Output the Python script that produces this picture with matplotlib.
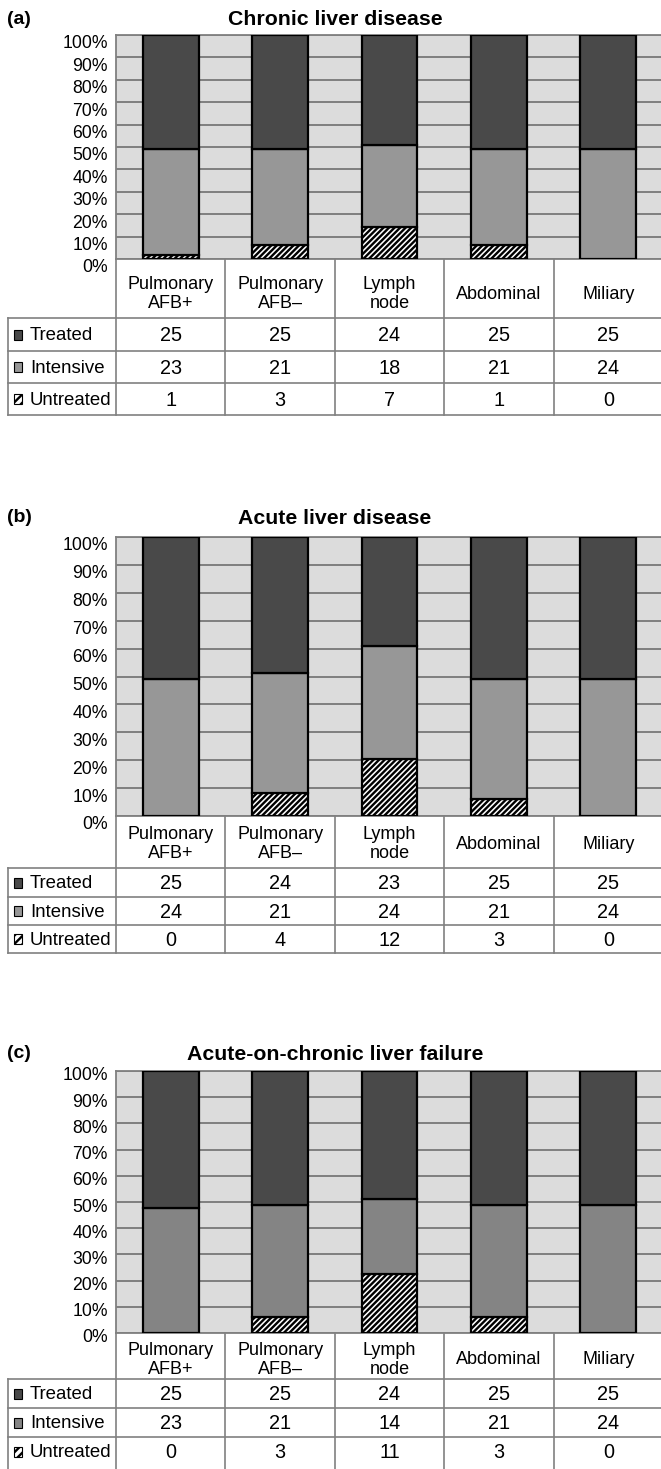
import matplotlib
matplotlib.use("Agg")
import matplotlib.pyplot as plt
from matplotlib import font_manager
from matplotlib.patches import Rectangle
from matplotlib.transforms import ScaledTranslation

# ---------------- data ----------------
categories = ["Pulmonary\nAFB+", "Pulmonary\nAFB\u2013", "Lymph\nnode", "Abdominal", "Miliary"]
series = ["Treated", "Intensive", "Untreated"]
titles = ["Chronic liver disease", "Acute liver disease", "Acute-on-chronic liver failure"]
panel_tags = ["(a)", "(b)", "(c)"]
y_ticks = [0, 10, 20, 30, 40, 50, 60, 70, 80, 90, 100]

# table counts (as printed)
a_treated = [25, 25, 24, 25, 25]
a_intensive = [23, 21, 18, 21, 24]
a_untreated = [1, 3, 7, 1, 0]
b_treated = [25, 24, 23, 25, 25]
b_intensive = [24, 21, 24, 21, 24]
b_untreated = [0, 4, 12, 3, 0]
c_treated = [25, 25, 24, 25, 25]
c_intensive = [23, 21, 14, 21, 24]
c_untreated = [0, 3, 11, 3, 0]

# bar segment heights in percent
a_untreated_pct = [2.0, 6.1, 14.3, 6.1, 0.0]
a_intensive_pct = [46.9, 42.9, 36.7, 42.9, 49.0]
a_treated_pct = [51.1, 51.0, 49.0, 51.0, 51.0]
b_untreated_pct = [0.0, 8.2, 20.3, 6.1, 0.0]
b_intensive_pct = [49.0, 42.9, 40.7, 42.9, 49.0]
b_treated_pct = [51.0, 48.9, 39.0, 51.0, 51.0]
c_untreated_pct = [0.0, 6.1, 22.4, 6.1, 0.0]
c_intensive_pct = [47.9, 42.9, 28.6, 42.9, 49.0]
c_treated_pct = [52.1, 51.0, 49.0, 51.0, 51.0]

# ---------------- style ----------------
W, H = 661, 1469
names = {f.name for f in font_manager.fontManager.ttflist}
base_font = "Liberation Sans" if "Liberation Sans" in names else "DejaVu Sans"
if "Liberation Sans Narrow" in names:
    row_font, row_size = "Liberation Sans Narrow", 16
else:
    row_font, row_size = base_font, 13.4
plt.rcParams["font.family"] = [base_font, "DejaVu Sans"]
plt.rcParams["hatch.linewidth"] = 1.7

BG = "#dcdcdc"
GRID = "#7f7f7f"
TREATED = "#494949"
INTENSIVE = ["#979797", "#979797", "#848484"]

fig = plt.figure(figsize=(W / 100, H / 100), dpi=100)
ov = fig.add_axes([0, 0, 1, 1])
ov.set_xlim(0, W)
ov.set_ylim(H, 0)
ov.axis("off")


def fy(y):
    return 1 - y / H


panels = [
    dict(counts=(a_treated, a_intensive, a_untreated),
         pct=(a_treated_pct, a_intensive_pct, a_untreated_pct),
         top=35, bot=259, rows=[318, 351, 383, 415], bottom_line=True,
         title_y=19.5, tick_off=7, head_y=294, ls=1.22),
    dict(counts=(b_treated, b_intensive, b_untreated),
         pct=(b_treated_pct, b_intensive_pct, b_untreated_pct),
         top=537, bot=816, rows=[868, 897, 925, 953], bottom_line=True,
         title_y=518, tick_off=7, head_y=844, ls=1.22),
    dict(counts=(c_treated, c_intensive, c_untreated),
         pct=(c_treated_pct, c_intensive_pct, c_untreated_pct),
         top=1071, bot=1333, rows=[1379, 1408, 1437, 1466], bottom_line=False,
         title_y=1054, tick_off=3, head_y=1360, ls=1.08),
]

XL, XR = 116, 663
x0 = 8
cw = (XR - XL) / len(categories)
LC = "#808080"

for p, panel in enumerate(panels):
    top, bot = panel["top"], panel["bot"]
    ax = fig.add_axes([XL / W, fy(bot), (XR - XL) / W, (bot - top) / H])
    ax.set_facecolor(BG)
    xs = list(range(len(categories)))
    tr, it, un = panel["pct"]
    bw = 0.51
    ax.bar(xs, un, bw, color="white", edgecolor="black", hatch="//////", lw=1.6, zorder=3)
    ax.bar(xs, it, bw, bottom=un, color=INTENSIVE[p], edgecolor="black", lw=1.6, zorder=3)
    bottoms = [u + i for u, i in zip(un, it)]
    ax.bar(xs, tr, bw, bottom=bottoms, color=TREATED, edgecolor="black", lw=1.6, zorder=3)
    ax.set_xlim(-0.5, len(categories) - 0.5)
    ax.set_ylim(0, 100)
    ax.set_yticks(y_ticks)
    ax.set_yticklabels([f"{v}%" for v in y_ticks], fontsize=12.7)
    ax.tick_params(axis="y", length=0, pad=5.8)
    ax.set_xticks([])
    ax.yaxis.grid(True, color=GRID, lw=1.4)
    ax.set_axisbelow(True)
    for s in ax.spines.values():
        s.set_color(LC)
        s.set_linewidth(1.3)
    off = ScaledTranslation(0, -panel["tick_off"] / 100, fig.dpi_scale_trans)
    for lab in ax.get_yticklabels():
        lab.set_transform(lab.get_transform() + off)

    # titles
    fig.text(335 / W, fy(panel["title_y"]), titles[p], ha="center", va="center",
             fontsize=15.3, fontweight="bold")
    fig.text(7 / W, fy(panel["title_y"]), panel_tags[p], ha="left", va="center",
             fontsize=14, fontweight="bold")

    # table grid
    rows = panel["rows"]
    tb = rows[-1] if panel["bottom_line"] else H
    for k in range(len(categories)):
        xv = XL + k * cw
        ov.plot([xv, xv], [bot, tb], color=LC, lw=1.2)
    ov.plot([x0, x0], [rows[0], tb], color=LC, lw=1.2)
    hl = rows if panel["bottom_line"] else rows[:-1]
    for yv in hl:
        ov.plot([x0, XR], [yv, yv], color=LC, lw=1.2)

    # header labels
    for k, cat in enumerate(categories):
        ov.text(XL + (k + 0.5) * cw, panel["head_y"], cat, ha="center", va="center",
                fontsize=13, linespacing=panel["ls"])

    # rows
    counts = panel["counts"]
    colors = [TREATED, INTENSIVE[p], "white"]
    for r in range(3):
        yc = (rows[r] + rows[r + 1]) / 2
        sq = Rectangle((13.5, yc - 5), 8, 10, facecolor=colors[r], edgecolor="black",
                       lw=0.8, hatch="////" if r == 2 else None)
        ov.add_patch(sq)
        ov.text(30, yc + 1, series[r], ha="left", va="center", fontsize=row_size,
                family=[row_font, "DejaVu Sans"])
        for k, v in enumerate(counts[r]):
            ov.text(XL + (k + 0.5) * cw, yc + 1, str(v), ha="center", va="center",
                    fontsize=14.3)

fig.savefig("out.png", dpi=100)
